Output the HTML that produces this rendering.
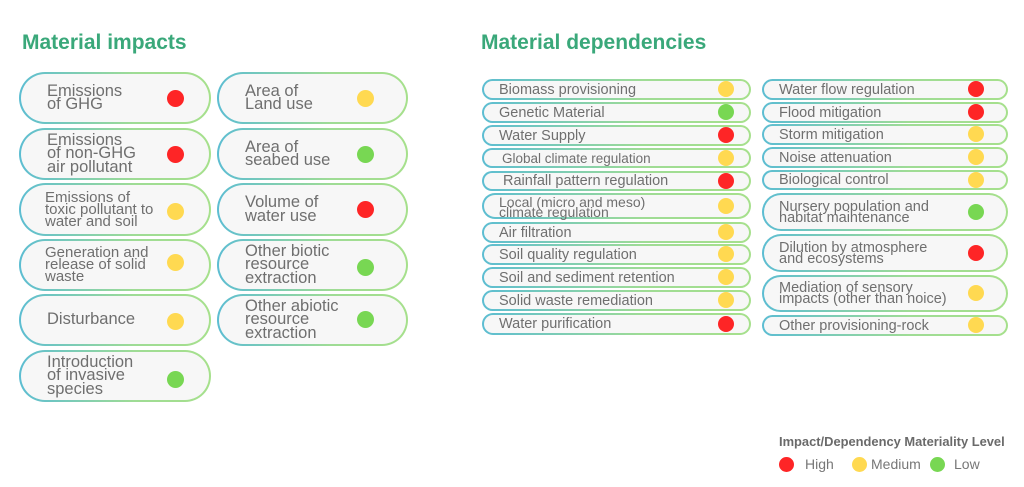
<!DOCTYPE html>
<html><head><meta charset="utf-8">
<style>
*{margin:0;padding:0;box-sizing:border-box}
html,body{width:1024px;height:487px;background:#fff;overflow:hidden}
body{position:relative;font-family:"Liberation Sans",sans-serif;color:#6f6f6f}
.t{position:absolute;color:#3aa87a;font-size:21px;font-weight:bold;line-height:24px;white-space:nowrap}
.b{position:absolute;border:2px solid transparent;border-radius:30px;
background:linear-gradient(#f7f7f7,#f7f7f7) padding-box,linear-gradient(90deg,#5cbdd2,#9fdc95 60%,#a6e08c) border-box;
display:flex;align-items:center}
.b span{display:block;white-space:nowrap}
.d{position:absolute;border-radius:50%}
.r{background:#fe2526}.y{background:#ffd951}.g{background:#78d753}
.i{font-size:16.5px;line-height:13.4px;padding-left:26px}
.i2{font-size:15px;line-height:12px;padding-left:24px}
.k{font-size:14.5px;line-height:11px;padding-left:15px;padding-top:1px}
</style></head><body>
<div class="t" style="left:22px;top:31px">Material impacts</div>
<div class="t" style="left:481px;top:31px">Material dependencies</div>

<!-- impacts left column -->
<div class="b i" style="left:19px;top:72px;width:192px;height:52px"><span>Emissions<br>of GHG</span></div>
<div class="d r" style="left:167px;top:90px;width:17px;height:17px"></div>
<div class="b i" style="left:19px;top:128px;width:192px;height:52px"><span>Emissions<br>of non-GHG<br>air pollutant</span></div>
<div class="d r" style="left:167px;top:146px;width:17px;height:17px"></div>
<div class="b i2" style="left:19px;top:183px;width:192px;height:53px"><span>Emissions of<br>toxic pollutant to<br>water and soil</span></div>
<div class="d y" style="left:167px;top:203px;width:17px;height:17px"></div>
<div class="b i2" style="left:19px;top:239px;width:192px;height:52px"><span>Generation and<br>release of solid<br>waste</span></div>
<div class="d y" style="left:167px;top:254px;width:17px;height:17px"></div>
<div class="b i" style="left:19px;top:294px;width:192px;height:52px"><span>Disturbance</span></div>
<div class="d y" style="left:167px;top:313px;width:17px;height:17px"></div>
<div class="b i" style="left:19px;top:350px;width:192px;height:52px"><span>Introduction<br>of invasive<br>species</span></div>
<div class="d g" style="left:167px;top:371px;width:17px;height:17px"></div>

<!-- impacts right column -->
<div class="b i" style="left:217px;top:72px;width:191px;height:52px"><span>Area of<br>Land use</span></div>
<div class="d y" style="left:357px;top:90px;width:17px;height:17px"></div>
<div class="b i" style="left:217px;top:128px;width:191px;height:52px"><span>Area of<br>seabed use</span></div>
<div class="d g" style="left:357px;top:146px;width:17px;height:17px"></div>
<div class="b i" style="left:217px;top:183px;width:191px;height:53px"><span>Volume of<br>water use</span></div>
<div class="d r" style="left:357px;top:201px;width:17px;height:17px"></div>
<div class="b i" style="left:217px;top:239px;width:191px;height:52px"><span>Other biotic<br>resource<br>extraction</span></div>
<div class="d g" style="left:357px;top:259px;width:17px;height:17px"></div>
<div class="b i" style="left:217px;top:294px;width:191px;height:52px"><span>Other abiotic<br>resource<br>extraction</span></div>
<div class="d g" style="left:357px;top:311px;width:17px;height:17px"></div>

<!-- dependencies left column -->
<div class="b k" style="left:482px;top:79px;width:269px;height:21px"><span>Biomass provisioning</span></div>
<div class="d y" style="left:718px;top:81px;width:16px;height:16px"></div>
<div class="b k" style="left:482px;top:102px;width:269px;height:21px"><span>Genetic Material</span></div>
<div class="d g" style="left:718px;top:104px;width:16px;height:16px"></div>
<div class="b k" style="left:482px;top:125px;width:269px;height:21px"><span>Water Supply</span></div>
<div class="d r" style="left:718px;top:127px;width:16px;height:16px"></div>
<div class="b k" style="left:482px;top:148px;width:269px;height:20px"><span style="font-size:13.5px;padding-left:3px">Global climate regulation</span></div>
<div class="d y" style="left:718px;top:150px;width:16px;height:16px"></div>
<div class="b k" style="left:482px;top:171px;width:269px;height:20px"><span style="padding-left:4px">Rainfall pattern regulation</span></div>
<div class="d r" style="left:718px;top:173px;width:16px;height:16px"></div>
<div class="b k" style="left:482px;top:193px;width:269px;height:26px"><span style="font-size:14px;line-height:10px">Local (micro and meso)<br>climate regulation</span></div>
<div class="d y" style="left:718px;top:198px;width:16px;height:16px"></div>
<div class="b k" style="left:482px;top:222px;width:269px;height:21px"><span>Air filtration</span></div>
<div class="d y" style="left:718px;top:224px;width:16px;height:16px"></div>
<div class="b k" style="left:482px;top:244px;width:269px;height:21px"><span>Soil quality regulation</span></div>
<div class="d y" style="left:718px;top:246px;width:16px;height:16px"></div>
<div class="b k" style="left:482px;top:267px;width:269px;height:21px"><span>Soil and sediment retention</span></div>
<div class="d y" style="left:718px;top:269px;width:16px;height:16px"></div>
<div class="b k" style="left:482px;top:290px;width:269px;height:21px"><span>Solid waste remediation</span></div>
<div class="d y" style="left:718px;top:292px;width:16px;height:16px"></div>
<div class="b k" style="left:482px;top:313px;width:269px;height:22px"><span>Water purification</span></div>
<div class="d r" style="left:718px;top:316px;width:16px;height:16px"></div>

<!-- dependencies right column -->
<div class="b k" style="left:762px;top:79px;width:246px;height:21px"><span>Water flow regulation</span></div>
<div class="d r" style="left:968px;top:81px;width:16px;height:16px"></div>
<div class="b k" style="left:762px;top:102px;width:246px;height:21px"><span>Flood mitigation</span></div>
<div class="d r" style="left:968px;top:104px;width:16px;height:16px"></div>
<div class="b k" style="left:762px;top:124px;width:246px;height:21px"><span>Storm mitigation</span></div>
<div class="d y" style="left:968px;top:126px;width:16px;height:16px"></div>
<div class="b k" style="left:762px;top:147px;width:246px;height:21px"><span>Noise attenuation</span></div>
<div class="d y" style="left:968px;top:149px;width:16px;height:16px"></div>
<div class="b k" style="left:762px;top:170px;width:246px;height:20px"><span>Biological control</span></div>
<div class="d y" style="left:968px;top:172px;width:16px;height:16px"></div>
<div class="b k" style="left:762px;top:193px;width:246px;height:38px"><span>Nursery population and<br>habitat maintenance</span></div>
<div class="d g" style="left:968px;top:204px;width:16px;height:16px"></div>
<div class="b k" style="left:762px;top:234px;width:246px;height:38px"><span>Dilution by atmosphere<br>and ecosystems</span></div>
<div class="d r" style="left:968px;top:245px;width:16px;height:16px"></div>
<div class="b k" style="left:762px;top:275px;width:246px;height:37px"><span>Mediation of sensory<br>impacts (other than noice)</span></div>
<div class="d y" style="left:968px;top:285px;width:16px;height:16px"></div>
<div class="b k" style="left:762px;top:315px;width:246px;height:21px"><span>Other provisioning-rock</span></div>
<div class="d y" style="left:968px;top:317px;width:16px;height:16px"></div>

<!-- legend -->
<div style="position:absolute;left:779px;top:435px;font-size:12.9px;font-weight:bold;color:#6a6a6a;line-height:14px;white-space:nowrap">Impact/Dependency Materiality Level</div>
<div class="d r" style="left:779px;top:457px;width:15px;height:15px"></div>
<div style="position:absolute;left:805px;top:457px;font-size:14px;line-height:15px;color:#777">High</div>
<div class="d y" style="left:852px;top:457px;width:15px;height:15px"></div>
<div style="position:absolute;left:871px;top:457px;font-size:14px;line-height:15px;color:#777">Medium</div>
<div class="d g" style="left:930px;top:457px;width:15px;height:15px"></div>
<div style="position:absolute;left:954px;top:457px;font-size:14px;line-height:15px;color:#777">Low</div>
</body></html>
